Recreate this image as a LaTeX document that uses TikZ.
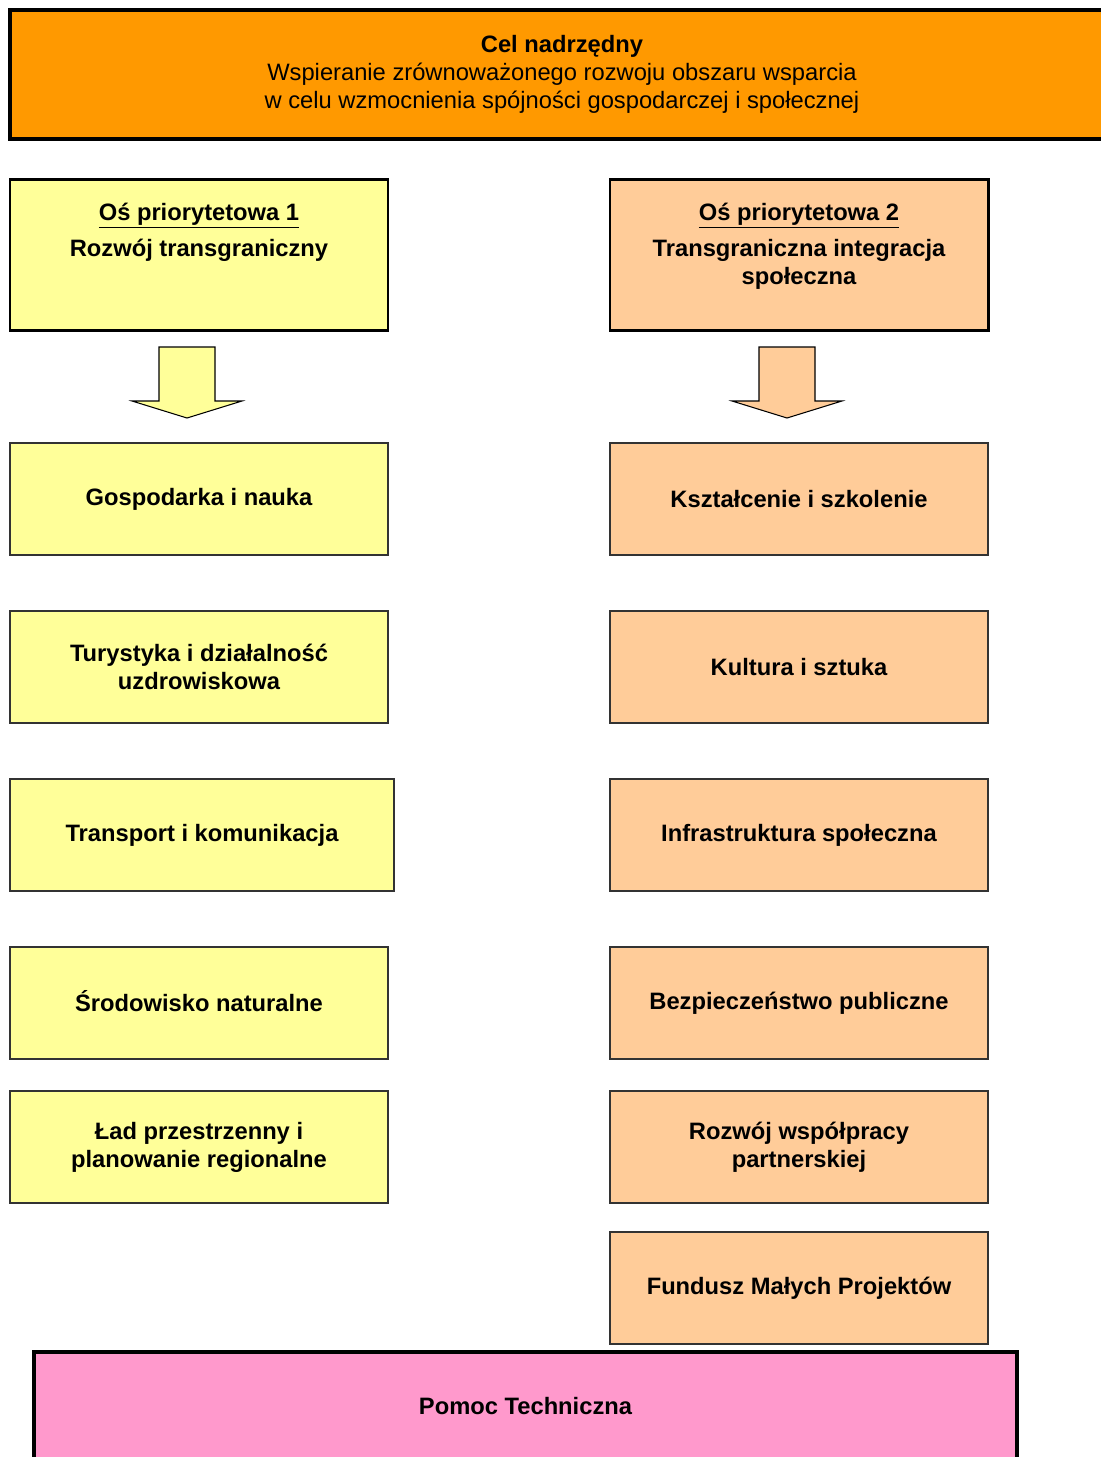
\documentclass[tikz,border=0pt]{standalone}
\usepackage{fontspec}
\setmainfont{Liberation Sans}
\usetikzlibrary{positioning}
\definecolor{celorange}{HTML}{FF9900}
\definecolor{osyellow}{HTML}{FFFF99}
\definecolor{ospeach}{HTML}{FFCC99}
\definecolor{pomocpink}{HTML}{FF99CC}

\begin{document}
\begin{tikzpicture}[
  font=\fontsize{13.5}{15.9}\selectfont\bfseries,
  bigbox/.style={draw, line width=2.3pt, align=center},
  osbox/.style={draw, line width=1.7pt, minimum width=7.56cm, minimum height=3.02cm},
  ostext/.style={align=center, inner sep=0pt},
  measure/.style={draw=black!80, line width=0.8pt, minimum width=7.56cm, minimum height=2.24cm, align=center},
  leftbox/.style={fill=osyellow},
  rightbox/.style={fill=ospeach},
  blockarrow/.style={draw, line width=0.6pt, line join=miter},
]
\useasboundingbox (0,0) rectangle (22.02,-29.14);

% Title
\node[bigbox, fill=celorange, minimum width=22.08cm, minimum height=2.58cm] (cel) at (11.24,-1.49)
  {Cel nadrzędny\\\mdseries Wspieranie zrównoważonego rozwoju obszaru wsparcia\\\mdseries w celu wzmocnienia spójności gospodarczej i społecznej};

\def\xleft{3.98}
\def\xright{15.98}

% ========== Oś 1 (left) ==========
\node[osbox, leftbox] (os1) at (\xleft,-5.09) {};
\node[ostext, below=0.5cm of os1.north] (os1_text) {\underline{Oś priorytetowa 1}\\[5pt]Rozwój transgraniczny};
\coordinate (arr1) at (3.74,-6.94);
\draw[blockarrow, fill=osyellow] ([xshift=-0.56cm]arr1) -- ++(0,-1.08) -- ++(-0.54,0) -- ++(1.10,-0.34)
  -- ++(1.10,0.34) -- ++(-0.54,0) -- ++(0,1.08) -- cycle;
\node[measure, leftbox] (gosp) at (\xleft,-9.98) {Gospodarka i nauka};
\node[measure, leftbox] (tur) at (\xleft,-13.34) {Turystyka i działalność\\uzdrowiskowa};
\node[measure, leftbox, minimum width=7.68cm] (trans) at (4.04,-16.70) {Transport i komunikacja};
\node[measure, leftbox] (srod) at (\xleft,-20.06) {\smash{Ś}rodowisko naturalne};
\node[measure, leftbox] (lad) at (\xleft,-22.94) {Ład przestrzenny i\\planowanie regionalne};

% ========== Oś 2 (right) ==========
\node[osbox, rightbox] (os2) at (\xright,-5.09) {};
\node[ostext, below=0.5cm of os2.north] (os2_text) {\underline{Oś priorytetowa 2}\\[5pt]Transgraniczna integracja\\społeczna};
\coordinate (arr2) at (15.74,-6.94);
\draw[blockarrow, fill=ospeach] ([xshift=-0.56cm]arr2) -- ++(0,-1.08) -- ++(-0.54,0) -- ++(1.10,-0.34)
  -- ++(1.10,0.34) -- ++(-0.54,0) -- ++(0,1.08) -- cycle;
\node[measure, rightbox] (ksz) at (\xright,-9.98) {Kształcenie i szkolenie};
\node[measure, rightbox] (kult) at (\xright,-13.34) {Kultura i sztuka};
\node[measure, rightbox] (infra) at (\xright,-16.70) {Infrastruktura społeczna};
\node[measure, rightbox] (bezp) at (\xright,-20.06) {Bezpieczeństwo publiczne};
\node[measure, rightbox] (wspol) at (\xright,-22.94) {Rozwój współpracy\\partnerskiej};
\node[measure, rightbox] (fmp) at (\xright,-25.76) {Fundusz Małych Projektów};

% Pomoc techniczna at bottom
\node[bigbox, fill=pomocpink, minimum width=19.66cm, minimum height=2.16cm] (pomoc) at (10.51,-28.12) {Pomoc Techniczna};

\end{tikzpicture}
\end{document}
